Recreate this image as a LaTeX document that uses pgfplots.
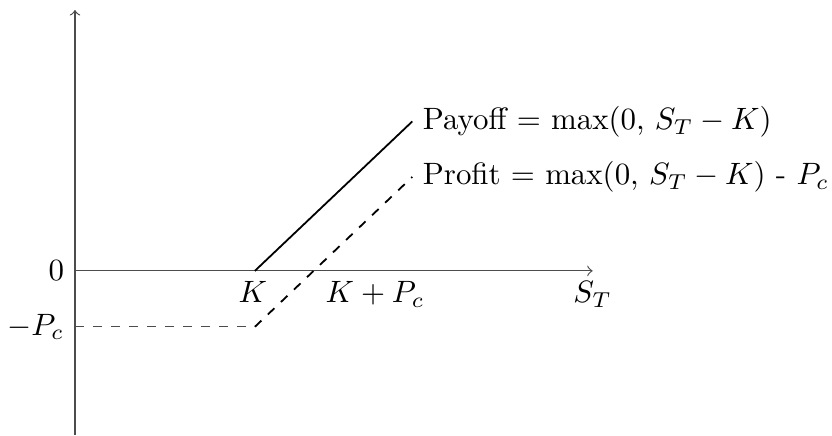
\documentclass[border=0pt]{standalone}
\usepackage{pgfplots}
\pgfplotsset{compat=1.18}
\begin{document}
\begin{tikzpicture}
\begin{axis}[
  x=0.33333pt, y=0.33333pt,
  xmin=-75, xmax=757, ymin=-164, ymax=271,
  hide axis, clip=false,
]
% bounding box helper (invisible)
\addplot[draw=none] coordinates {(-75,-164) (757,271)};
% axes
\addplot[thin, black!70, ->] coordinates {(0,-164) (0,261)};
\addplot[thin, black!70, ->] coordinates {(0,0) (518,0)};
% payoff
\addplot[semithick, black] coordinates {(180,0) (337.5,149.5)};
% profit
\addplot[thin, black!70, dashed] coordinates {(0,-56) (180,-56)};
\addplot[semithick, black, dashed] coordinates {(180,-56) (337.5,94)};
% labels
\begin{scope}[every node/.append style={scale=1.03}]
\node[anchor=east] at (axis cs:0,0) {$0$};
\node[anchor=east, inner xsep=2pt, xshift=-1.4pt] at (axis cs:0,-56) {$-P_c$};
\node[anchor=north] at (axis cs:178,0) {$K$};
\node[anchor=north west] at (axis cs:240,0) {$K+P_c$};
\node[anchor=north] at (axis cs:518,0) {$S_T$};
\node[anchor=west, inner xsep=1pt, xshift=2.4pt] at (axis cs:337,149) {Payoff = max(0, $S_T-K$)};
\node[anchor=west, inner xsep=1pt, xshift=2.4pt] at (axis cs:337,94) {Profit = max(0, $S_T-K$) - $P_c$};
\end{scope}
\end{axis}
\end{tikzpicture}
\end{document}
